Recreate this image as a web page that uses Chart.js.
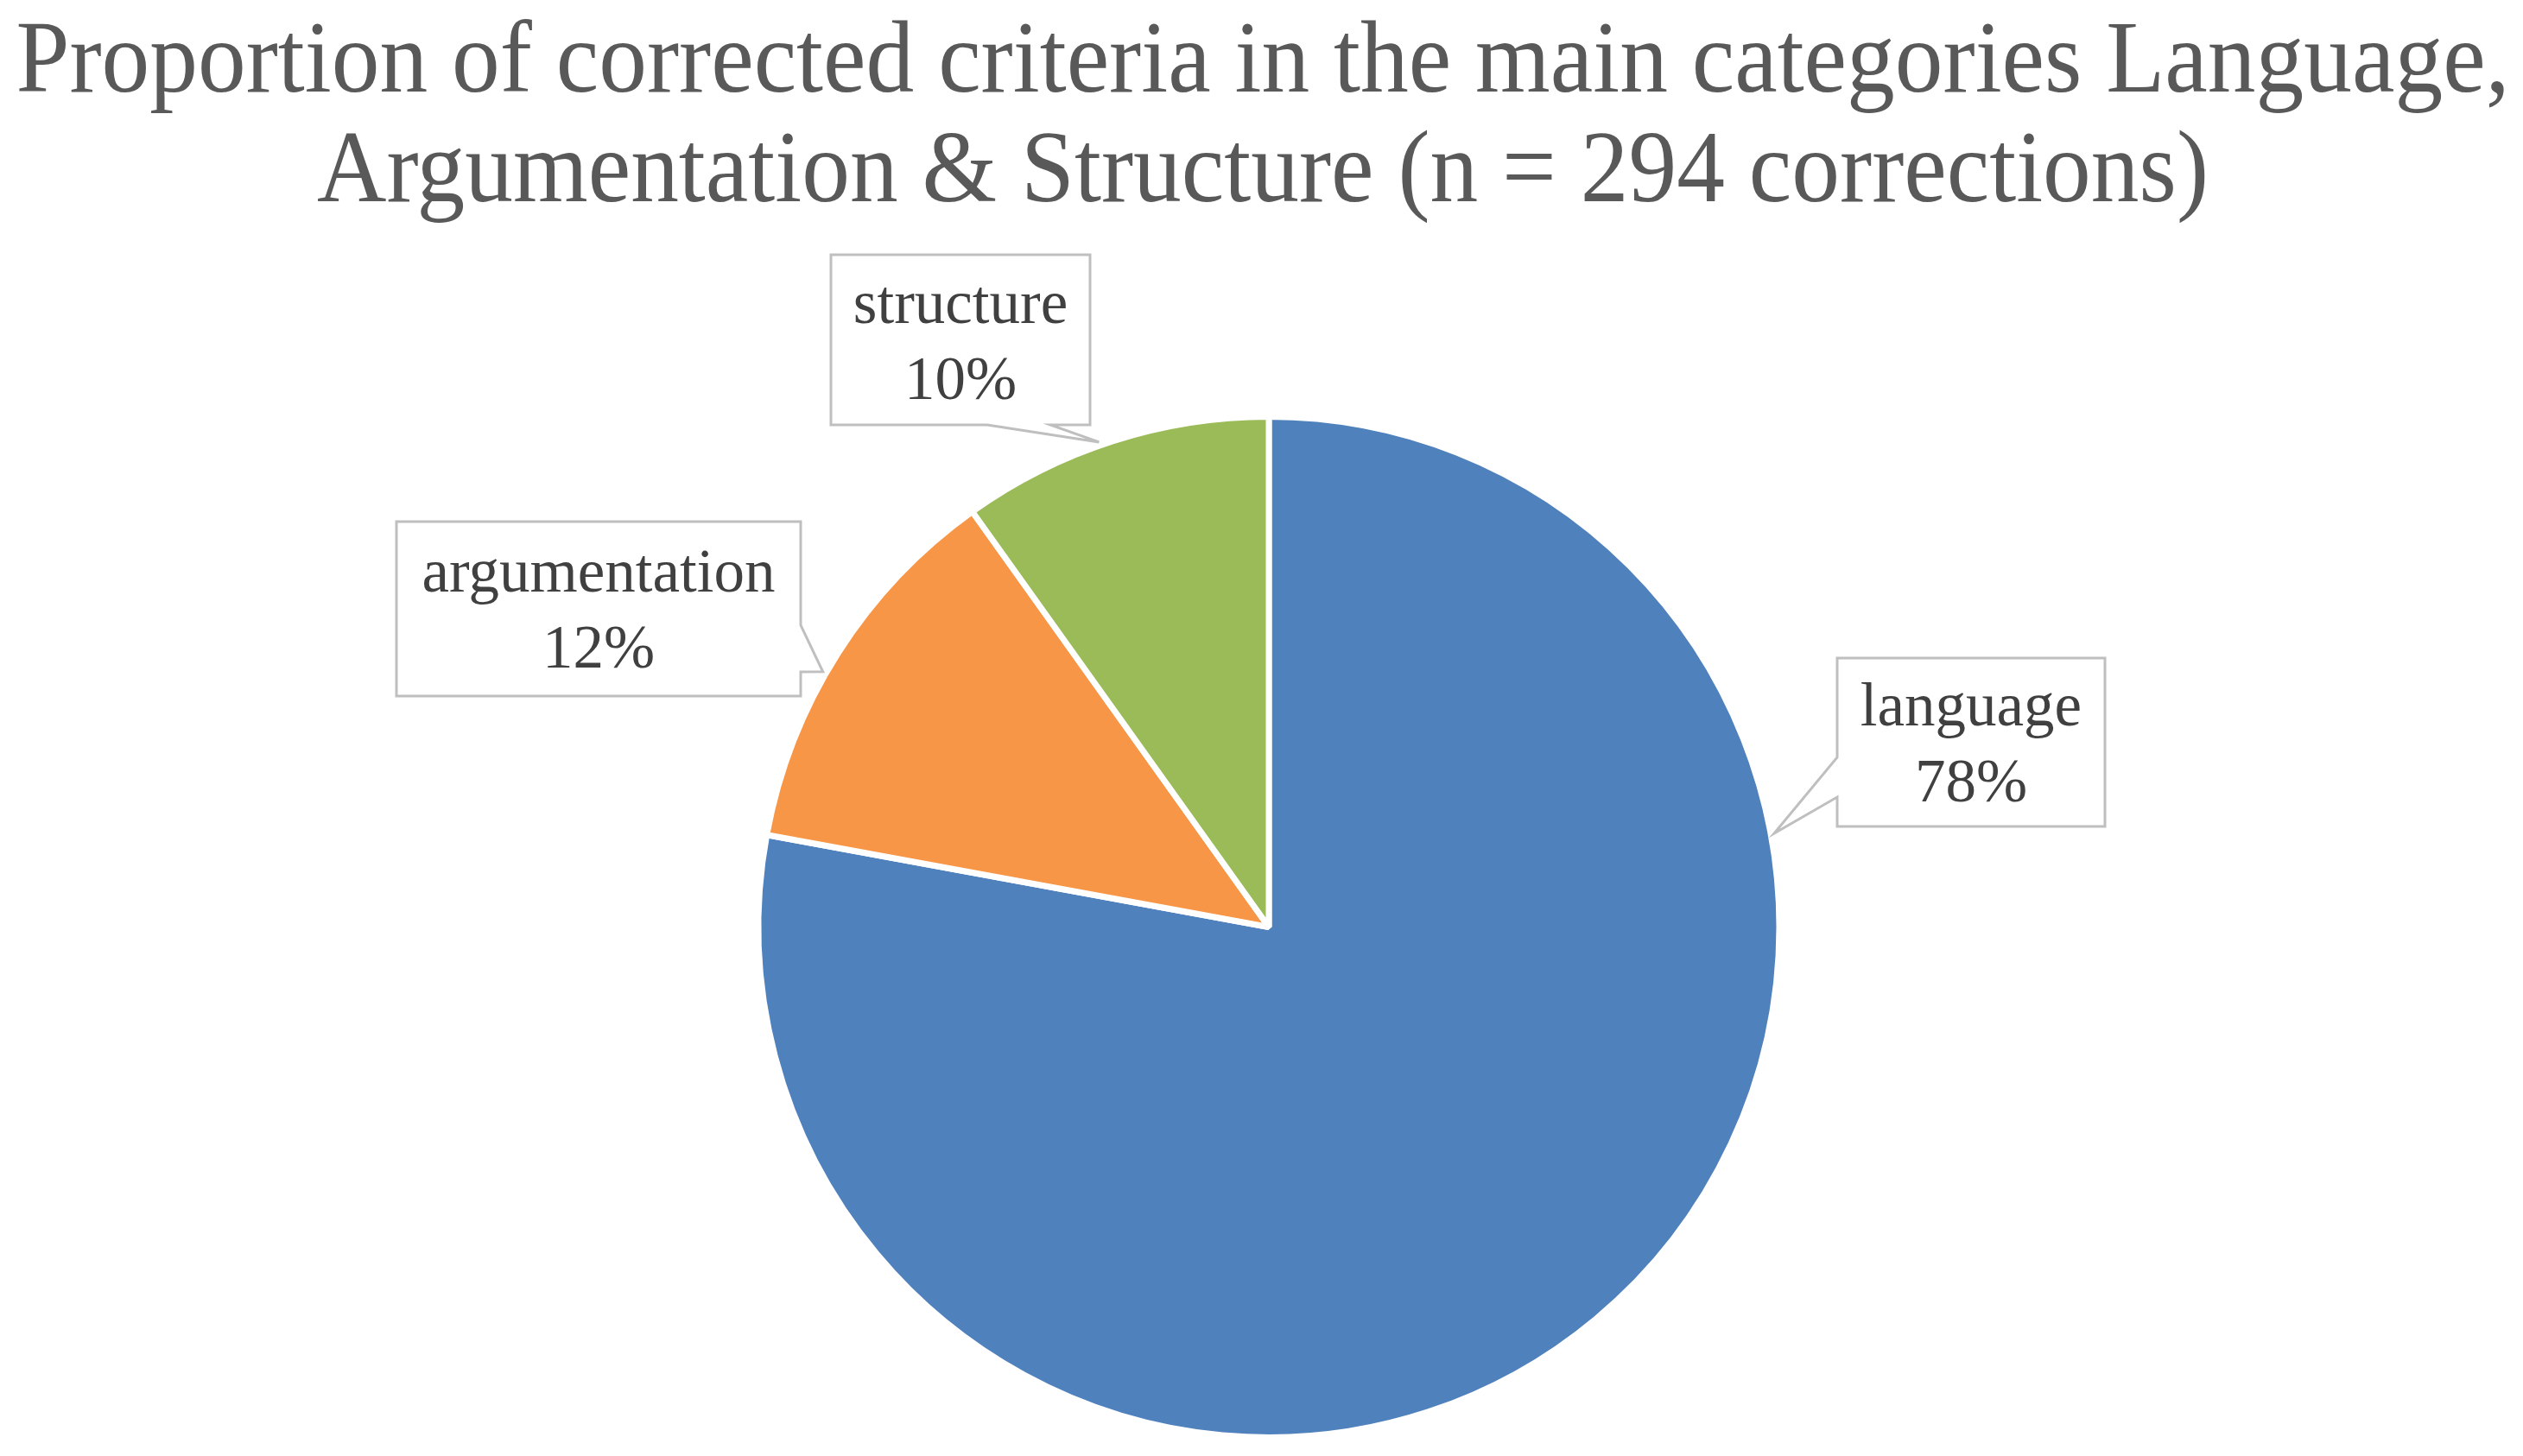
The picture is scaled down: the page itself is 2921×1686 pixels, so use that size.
<!DOCTYPE html>
<html>
<head>
<meta charset="utf-8">
<script src="https://cdn.jsdelivr.net/npm/chart.js@4.4.1/dist/chart.umd.min.js"></script>
<style>
    html, body { margin: 0; padding: 0; background: #ffffff; }
    #wrap { width: 2921px; height: 1686px; }
</style>
</head>
<body>
<div id="wrap"><canvas id="pieChart" width="2921" height="1686"></canvas></div>
<script>
const titleLines = [
    'Proportion of corrected criteria in the main categories Language,',
    'Argumentation & Structure (n = 294 corrections)'
];
const categories = ['language', 'argumentation', 'structure'];
const corrections = [229, 36, 29];
const sliceColors = ['#4F81BD', '#F79646', '#9BBB59'];

// callout boxes as placed in the original: [x, y, w, h], pointer side, pointer base, tip angle (deg)
const callouts = [
    { box: [2127, 762, 310, 195], side: 'left', base: [877, 923], tipAngle: -10.5 },
    { box: [459, 604, 468, 202], side: 'right', base: [724, 778], tipAngle: -150.2 },
    { box: [962, 295, 300, 197], side: 'bottom', base: [1143, 1216], tipAngle: -109.3 }
];

const serif = '"Liberation Serif", "Times New Roman", serif';

function calloutPath(ctx, c, tip) {
    const [x, y, w, h] = c.box;
    const [b1, b2] = c.base;
    ctx.beginPath();
    ctx.moveTo(x, y);
    ctx.lineTo(x + w, y);
    if (c.side === 'right') {
        ctx.lineTo(x + w, b1);
        ctx.lineTo(tip.x, tip.y);
        ctx.lineTo(x + w, b2);
    }
    ctx.lineTo(x + w, y + h);
    if (c.side === 'bottom') {
        ctx.lineTo(b2, y + h);
        ctx.lineTo(tip.x, tip.y);
        ctx.lineTo(b1, y + h);
    }
    ctx.lineTo(x, y + h);
    if (c.side === 'left') {
        ctx.lineTo(x, b2);
        ctx.lineTo(tip.x, tip.y);
        ctx.lineTo(x, b1);
    }
    ctx.closePath();
}

const titlePlugin = {
    id: 'squeezedTitle',
    afterDraw(chart) {
        const ctx = chart.ctx;
        ctx.save();
        ctx.font = '118px ' + serif;
        ctx.fillStyle = '#595959';
        ctx.textAlign = 'center';
        ctx.textBaseline = 'alphabetic';
        // the original title is set in a narrow face, squeeze to its width
        const sx = 2887 / ctx.measureText(titleLines[0]).width;
        const baselines = [106, 233];
        titleLines.forEach((line, i) => {
            ctx.save();
            ctx.translate(1462, baselines[i]);
            ctx.scale(sx, 1);
            ctx.fillText(line, 0, 0);
            ctx.restore();
        });
        ctx.restore();
    }
};

const calloutPlugin = {
    id: 'callouts',
    afterDatasetsDraw(chart) {
        const ctx = chart.ctx;
        const arcs = chart.getDatasetMeta(0).data;
        const values = chart.data.datasets[0].data;
        const total = values.reduce((a, b) => a + b, 0);
        ctx.save();
        arcs.forEach((arc, i) => {
            const c = callouts[i];
            const a = c.tipAngle * Math.PI / 180;
            const r = arc.outerRadius + 4;
            const tip = { x: arc.x + r * Math.cos(a), y: arc.y + r * Math.sin(a) };
            calloutPath(ctx, c, tip);
            ctx.fillStyle = '#ffffff';
            ctx.fill();
            ctx.lineWidth = 3;
            ctx.strokeStyle = '#BFBFBF';
            ctx.stroke();

            const [x, y, w, h] = c.box;
            const cx = x + w / 2;
            const cy = y + h / 2;
            ctx.fillStyle = '#404040';
            ctx.font = '71px ' + serif;
            ctx.textAlign = 'center';
            ctx.textBaseline = 'alphabetic';
            ctx.fillText(chart.data.labels[i], cx, cy - 20);
            ctx.fillText(Math.round(values[i] / total * 100) + '%', cx, cy + 68);
        });
        ctx.restore();
    }
};

new Chart(document.getElementById('pieChart'), {
    type: 'pie',
    data: {
        labels: categories,
        datasets: [{
            data: corrections,
            backgroundColor: sliceColors,
            borderColor: '#ffffff',
            borderWidth: 7
        }]
    },
    options: {
        responsive: false,
        devicePixelRatio: 1,
        animation: false,
        layout: { padding: { top: 479, bottom: 18, left: 17, right: 0 } },
        plugins: {
            legend: { display: false },
            title: { display: false },
            tooltip: { enabled: false }
        }
    },
    plugins: [titlePlugin, calloutPlugin]
});
</script>
</body>
</html>
